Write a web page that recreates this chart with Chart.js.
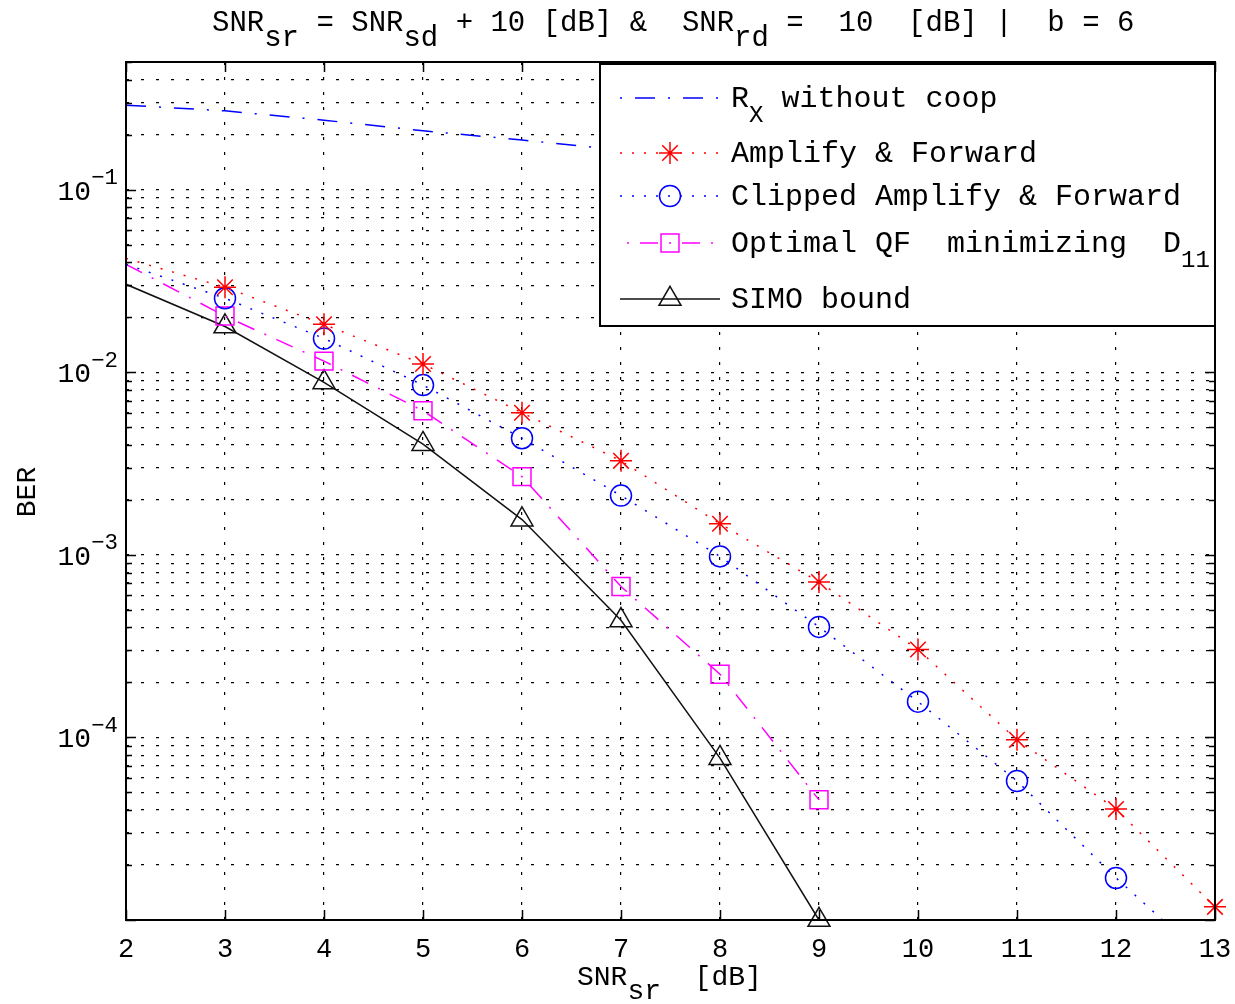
<!DOCTYPE html>
<html>
<head>
<meta charset="utf-8">
<title>BER vs SNR</title>
<script src="https://cdn.jsdelivr.net/npm/chart.js@4.4.1/dist/chart.umd.min.js"></script>
<style>
  body { margin: 0; background: #fff; }
  #wrap { width: 1235px; height: 1004px; }
</style>
</head>
<body>
<div id="wrap"><canvas id="berChart" width="1235" height="1004"></canvas></div>
<script>
// SNR_sr [dB] on the x axis
const snrSr = [2, 3, 4, 5, 6, 7, 8, 9, 10, 11, 12, 13];

// BER curves
const berNoCoop    = [0.29, 0.27, 0.24, 0.21, 0.187, 0.165, 0.145, 0.127, 0.111, 0.097, 0.085, 0.074];
const berAF        = [0.042, 0.0292, 0.0183, 0.0111, 0.0060, 0.00327, 0.00148, 0.00071, 0.000303, 0.000097, 0.0000405, 0.0000118];
const berClippedAF = [0.039, 0.0254, 0.0153, 0.0085, 0.00435, 0.00211, 0.00098, 0.000403, 0.000157, 0.0000577, 0.000017, 0.0000055];
const berOptQF     = [0.039, 0.0203, 0.0115, 0.00615, 0.00268, 0.00067, 0.000222, 0.0000455];
const berSIMO      = [0.0303, 0.0178, 0.0088, 0.00404, 0.00156, 0.000438, 0.000077, 0.00001];

// axes
const xTicks = [2, 3, 4, 5, 6, 7, 8, 9, 10, 11, 12, 13];
const yMin = 1e-5;
const yMax = 0.5;
const yDecadeExps = [-5, -4, -3, -2, -1];
const yMultipliers = [1, 2, 3, 4, 5, 6, 7, 8, 9];
const yLabelExps = [-4, -3, -2, -1];

const FONT = "'Liberation Mono', 'DejaVu Sans Mono', monospace";

const yGridValues = yDecadeExps.flatMap(e => yMultipliers.map(m => ({ m, v: m * Math.pow(10, e) })))
    .filter(t => t.v <= yMax);

function pts(values) {
    return values.map((v, i) => ({ x: snrSr[i], y: v }));
}

// no marker on the first (x = 2) sample
function radii(values, r) {
    return values.map((v, i) => (i === 0 ? 0 : r));
}

// draw text with tex-like sub/superscripts, parts = [{t, s}]
function drawRich(ctx, parts, x, y, size, align, subScale) {
    const subSize = size * (subScale || 0.8);
    let total = 0;
    parts.forEach(p => {
        ctx.font = `${p.s ? subSize : size}px ${FONT}`;
        total += ctx.measureText(p.t).width;
    });
    let cx = x;
    if (align === 'center') cx = x - total / 2;
    if (align === 'right') cx = x - total;
    ctx.textAlign = 'left';
    ctx.textBaseline = 'alphabetic';
    parts.forEach(p => {
        ctx.font = `${p.s ? subSize : size}px ${FONT}`;
        let dy = 0;
        if (p.s === 'sub') dy = size * 0.5;
        if (p.s === 'sup') dy = -size * 0.55;
        ctx.fillText(p.t, cx, y + dy);
        cx += ctx.measureText(p.t).width;
    });
}

function drawMarker(ctx, ds, x, y) {
    const r = Array.isArray(ds.pointRadius) ? ds.pointRadius[1] : ds.pointRadius;
    ctx.save();
    ctx.strokeStyle = ds.pointBorderColor;
    ctx.fillStyle = 'rgba(0,0,0,0)';
    ctx.lineWidth = ds.pointBorderWidth;
    ctx.setLineDash([]);
    Chart.helpers.drawPoint(ctx, { pointStyle: ds.pointStyle, radius: r, rotation: 0, borderWidth: ds.pointBorderWidth }, x, y);
    ctx.restore();
}

const legendRows = [
    [{ t: 'R' }, { t: 'X', s: 'sub' }, { t: ' without coop' }],
    [{ t: 'Amplify & Forward' }],
    [{ t: 'Clipped Amplify & Forward' }],
    [{ t: 'Optimal QF  minimizing  D' }, { t: '11', s: 'sub' }],
    [{ t: 'SIMO bound' }]
];
const legendLineY = [98, 153, 196, 243, 299];
const legendDashOffset = [33, 0, 0, 22, 0];

const frameAndText = {
    id: 'frameAndText',
    afterDatasetsDraw(chart) {
        const ctx = chart.ctx;
        const { left, right, top, bottom } = chart.chartArea;
        const xs = chart.scales.x;
        const ys = chart.scales.y;
        ctx.save();
        ctx.strokeStyle = '#000';
        ctx.setLineDash([]);

        // inner tick marks (matlab style)
        ctx.lineWidth = 1.5;
        ctx.beginPath();
        xTicks.forEach(v => {
            const px = Math.round(xs.getPixelForValue(v)) + 0.5;
            ctx.moveTo(px, bottom); ctx.lineTo(px, bottom - 10);
            ctx.moveTo(px, top); ctx.lineTo(px, top + 10);
        });
        yGridValues.forEach(t => {
            const py = Math.round(ys.getPixelForValue(t.v)) + 0.5;
            const len = t.m === 1 ? 10 : 6;
            ctx.moveTo(left, py); ctx.lineTo(left + len, py);
            ctx.moveTo(right, py); ctx.lineTo(right - len, py);
        });
        ctx.stroke();

        // axes box
        ctx.lineWidth = 2;
        ctx.strokeRect(left, top, right - left, bottom - top);

        // legend
        const lx = 600, ly = top + 2, lw = right - 600, lh = 262;
        ctx.fillStyle = '#fff';
        ctx.fillRect(lx, ly, lw, lh);
        ctx.strokeStyle = '#000';
        ctx.lineWidth = 2;
        ctx.strokeRect(lx, ly, lw, lh);
        chart.data.datasets.forEach((ds, i) => {
            const y = legendLineY[i];
            ctx.save();
            ctx.strokeStyle = ds.borderColor;
            ctx.lineWidth = ds.borderWidth;
            ctx.setLineDash(ds.borderDash || []);
            ctx.lineDashOffset = legendDashOffset[i];
            ctx.beginPath();
            ctx.moveTo(620, y);
            ctx.lineTo(720, y);
            ctx.stroke();
            ctx.restore();
            if (ds.pointStyle) drawMarker(ctx, ds, 670, y);
            ctx.fillStyle = '#000';
            drawRich(ctx, legendRows[i], 731, y + 9, 30, 'left');
        });
        ctx.restore();
    },
    afterDraw(chart) {
        const ctx = chart.ctx;
        const xs = chart.scales.x;
        const ys = chart.scales.y;
        ctx.save();
        ctx.fillStyle = '#000';

        // title
        drawRich(ctx, [
            { t: 'SNR' }, { t: 'sr', s: 'sub' }, { t: ' = SNR' }, { t: 'sd', s: 'sub' },
            { t: ' + 10 [dB] &  SNR' }, { t: 'rd', s: 'sub' }, { t: ' =  10  [dB] |  b = 6' }
        ], 212, 31, 29, 'left', 1);

        // x tick labels
        xTicks.forEach(v => {
            drawRich(ctx, [{ t: String(v) }], xs.getPixelForValue(v), 957, 27, 'center');
        });

        // y tick labels 10^e
        yLabelExps.forEach(e => {
            const py = ys.getPixelForValue(Math.pow(10, e));
            drawRich(ctx, [{ t: '10' }, { t: '\u2212' + Math.abs(e), s: 'sup' }], 118, py + 10, 28, 'right');
        });

        // x axis title
        drawRich(ctx, [{ t: 'SNR' }, { t: 'sr', s: 'sub' }, { t: '  [dB]' }], 577, 985, 28, 'left', 1);

        // y axis title
        ctx.translate(35, 492);
        ctx.rotate(-Math.PI / 2);
        drawRich(ctx, [{ t: 'BER' }], 0, 0, 28, 'center');
        ctx.restore();
    }
};

const gridOpts = { color: '#000', lineWidth: 1.2, drawTicks: false };
const gridBorder = { display: false, dash: [3, 12] };

const ctx = document.getElementById('berChart').getContext('2d');
new Chart(ctx, {
    type: 'line',
    data: {
        datasets: [
            {
                label: 'Rx without coop',
                data: pts(berNoCoop),
                borderColor: '#0000ff',
                borderWidth: 1.5,
                borderDash: [20, 13, 2, 13],
                pointRadius: 0,
                pointStyle: false
            },
            {
                label: 'Amplify & Forward',
                data: pts(berAF),
                borderColor: '#ff0000',
                borderWidth: 1.5,
                borderDash: [2, 10],
                pointStyle: 'star',
                pointRadius: radii(berAF, 11),
                pointBorderColor: '#ff0000',
                pointBackgroundColor: 'rgba(0,0,0,0)',
                pointBorderWidth: 1.5,
                clip: { left: 0, top: 0, right: 15, bottom: 15 }
            },
            {
                label: 'Clipped Amplify & Forward',
                data: pts(berClippedAF),
                borderColor: '#0000ff',
                borderWidth: 1.5,
                borderDash: [2, 10],
                pointStyle: 'circle',
                pointRadius: radii(berClippedAF, 10.5),
                pointBorderColor: '#0000ff',
                pointBackgroundColor: 'rgba(0,0,0,0)',
                pointBorderWidth: 1.5,
                clip: 0
            },
            {
                label: 'Optimal QF minimizing D11',
                data: pts(berOptQF),
                borderColor: '#ff00ff',
                borderWidth: 1.5,
                borderDash: [18, 11, 2, 11],
                pointStyle: 'rect',
                pointRadius: radii(berOptQF, 12.7),
                pointBorderColor: '#ff00ff',
                pointBackgroundColor: 'rgba(0,0,0,0)',
                pointBorderWidth: 1.5
            },
            {
                label: 'SIMO bound',
                data: pts(berSIMO),
                borderColor: '#111',
                borderWidth: 1.5,
                pointStyle: 'triangle',
                pointRadius: radii(berSIMO, 12.7),
                pointBorderColor: '#111',
                pointBackgroundColor: 'rgba(0,0,0,0)',
                pointBorderWidth: 1.5,
                clip: { left: 0, top: 0, right: 15, bottom: 15 }
            }
        ]
    },
    options: {
        responsive: false,
        animation: false,
        devicePixelRatio: 1,
        layout: { padding: { left: 126, top: 62, right: 20, bottom: 84 } },
        elements: { line: { tension: 0, fill: false } },
        scales: {
            x: {
                type: 'linear',
                min: 2,
                max: 13,
                afterBuildTicks: s => { s.ticks = xTicks.map(v => ({ value: v })); },
                ticks: { display: false },
                grid: gridOpts,
                border: gridBorder
            },
            y: {
                type: 'logarithmic',
                min: yMin,
                max: yMax,
                afterBuildTicks: s => { s.ticks = yGridValues.map(t => ({ value: t.v })); },
                ticks: { display: false, autoSkip: false },
                grid: gridOpts,
                border: gridBorder
            }
        },
        plugins: {
            legend: { display: false },
            title: { display: false },
            tooltip: { enabled: false }
        }
    },
    plugins: [frameAndText]
});
</script>
</body>
</html>
